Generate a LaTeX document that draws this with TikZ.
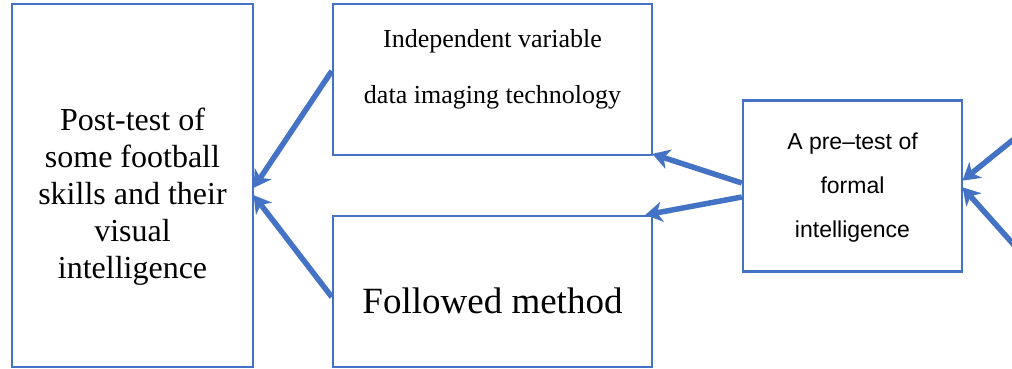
\documentclass[tikz,border=0pt]{standalone}
\usepackage{fontspec}
\setmainfont{Liberation Serif}
\newfontfamily\arialfont{Liberation Sans}
\usetikzlibrary{arrows.meta,positioning,calc}
\definecolor{boxblue}{RGB}{68,114,196}

\tikzset{
  stagebox/.style={draw=boxblue, line width=2.4pt, fill=white, inner sep=0pt},
  stagetext/.style={align=center, inner sep=0pt},
  flowarrow/.style={draw=boxblue, line width=5.5pt,
    -{Stealth[length=17pt,width=20pt,inset=5pt]}, shorten >=-1pt}
}

\begin{document}
\begin{tikzpicture}[x=1pt,y=-1pt]
  \useasboundingbox (0,0) rectangle (1012,368);
  \clip (0,0) rectangle (1012,368);

  % boxes
  \node[stagebox, minimum width=241pt, minimum height=363pt] (post) at (132.5,185.5) {};
  \node[stagebox, minimum width=319pt, minimum height=151pt] (ivar) at (492.5,79.5) {};
  \node[stagebox, minimum width=319pt, minimum height=151pt] (method) at (492.5,291.5) {};
  \node[stagebox, minimum width=219pt, minimum height=171pt] (pretest) at (852.5,186) {};

  % texts
  \node[stagetext, font=\fontsize{32}{37}\selectfont] (posttext) at ([yshift=-11.5pt]post.center)
    {Post-test of\\some football\\skills and their\\visual\\intelligence};
  \node[stagetext, font=\fontsize{26}{56}\selectfont] (ivartext) at ([yshift=10pt]ivar.center)
    {Independent variable\\data imaging technology};
  \node[stagetext, font=\fontsize{37}{44}\selectfont] (methodtext) at ([yshift=-9pt]method.center)
    {Followed method};
  \node[stagetext, font=\arialfont\fontsize{23}{44}\selectfont] (pretesttext) at ([yshift=-2pt]pretest.center)
    {A pre\textendash test of\\formal\\intelligence};

  % free ends on the right edge
  \coordinate (inA) at (1014,139);
  \coordinate (inB) at (1014,245);

  % connectors
  \draw[flowarrow] ([yshift=8.5pt]ivar.west) -- ([yshift=-1.5pt]post.east);
  \draw[flowarrow] ([yshift=-5.5pt]method.west) -- ([yshift=-10.5pt]post.east);
  \draw[flowarrow] ([yshift=3pt]pretest.west) -- ([yshift=2pt]ivar.south east);
  \draw[flowarrow] ([yshift=-11pt]pretest.west) -- ([xshift=-7pt]method.north east);
  \draw[flowarrow] (inA) -- ([yshift=6pt]pretest.east);
  \draw[flowarrow] (inB) -- ([yshift=-2pt]pretest.east);
\end{tikzpicture}
\end{document}
